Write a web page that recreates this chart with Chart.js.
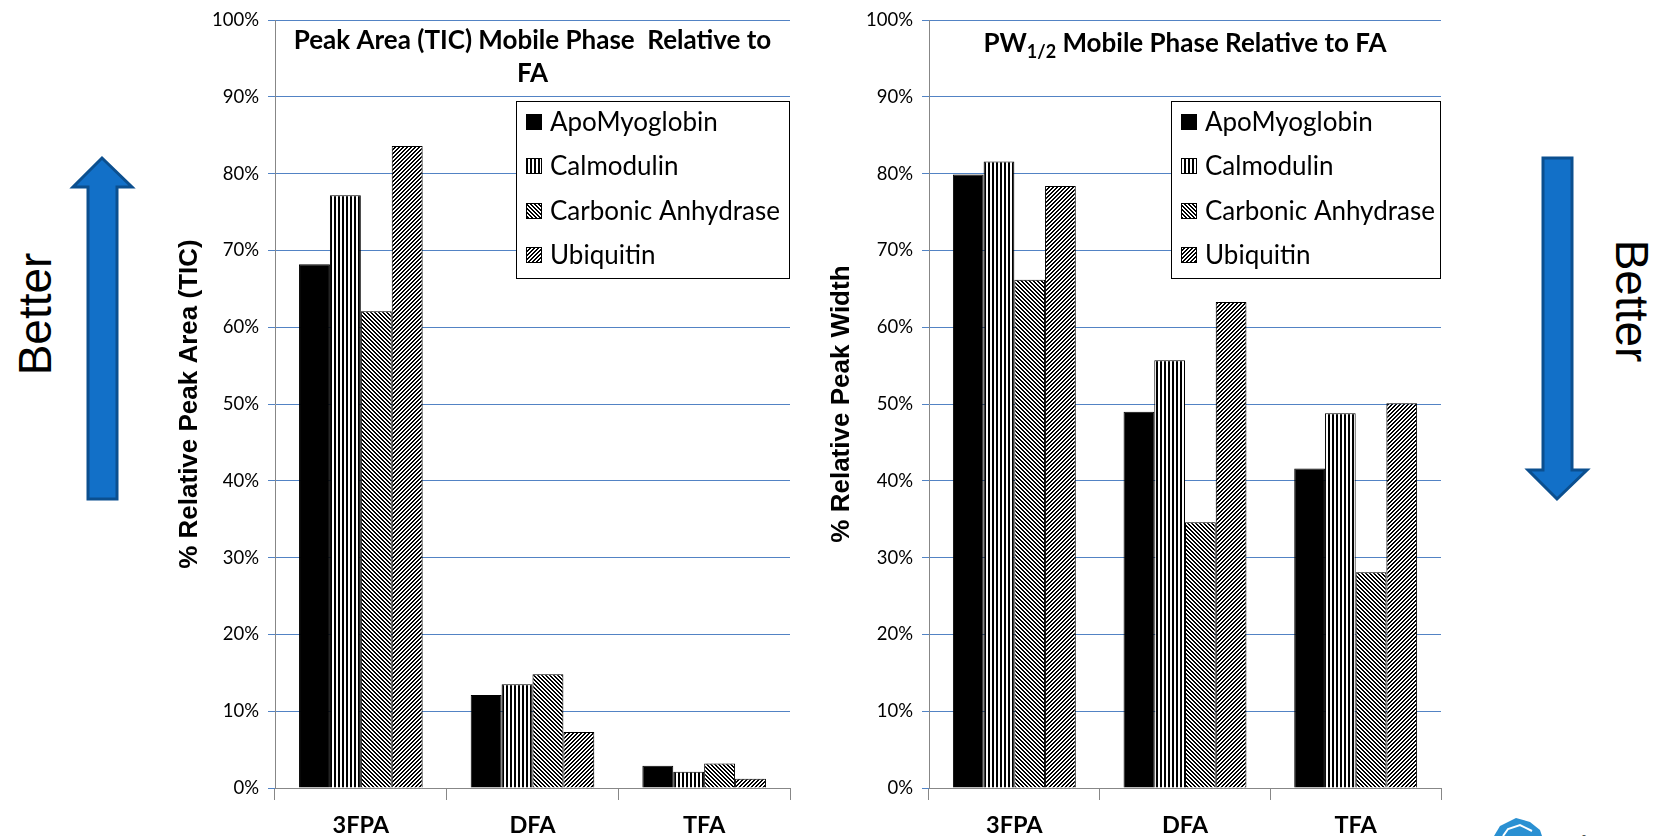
<!DOCTYPE html>
<html>
<head>
<meta charset="utf-8">
<script src="https://cdn.jsdelivr.net/npm/chart.js@4.4.0/dist/chart.umd.min.js"></script>
<style>
  html, body { margin: 0; padding: 0; background: #fff; }
  body { width: 1655px; height: 836px; position: relative; overflow: hidden; font-family: "Liberation Sans", Arial, sans-serif; }
  .chart-box { position: absolute; top: 0; height: 836px; }
  #leftBox { left: 150px; width: 650px; }
  #rightBox { left: 820px; width: 640px; }
  .better { position: absolute; font-size: 46px; line-height: 1; color: #000; white-space: nowrap; }
  #deco { position: absolute; left: 0; top: 0; }
</style>
</head>
<body>
<svg id="deco" width="1655" height="836">
  <polygon points="88,499 88,187 73,187 102,158 132,187 117,187 117,499" fill="#1270c8" stroke="#0b4f8f" stroke-width="3"/>
  <polygon points="1543,158 1543,470 1528,470 1557,499 1587,470 1572,470 1572,158" fill="#1270c8" stroke="#0b4f8f" stroke-width="3"/>
  <polygon points="1494,836 1500,826 1516,818 1530,822 1540,830 1542,836" fill="#2a90d2"/>
  <polyline points="1503,836 1508,829 1520,825 1532,831" fill="none" stroke="#fff" stroke-width="2"/>
  <text x="1552" y="858" font-family="Liberation Sans" font-size="32" fill="#555">advanced</text>
</svg>
<div class="better" id="betterLeft" style="left:35px; top:314px; transform: translate(-50%, -50%) rotate(-90deg);">Better</div>
<div class="better" id="betterRight" style="left:1632px; top:301px; transform: translate(-50%, -50%) rotate(90deg);">Better</div>
<div class="chart-box" id="leftBox"><canvas id="areaChart"></canvas></div>
<div class="chart-box" id="rightBox"><canvas id="widthChart"></canvas></div>

<script>
const categories = ["3FPA", "DFA", "TFA"];
const seriesNames = ["ApoMyoglobin", "Calmodulin", "Carbonic Anhydrase", "Ubiquitin"];

// % relative peak area (TIC)
const areaApo = [68.2, 12.1, 2.9];
const areaCal = [77.2, 13.5, 2.1];
const areaCarb = [62.1, 14.8, 3.2];
const areaUbi = [83.6, 7.3, 1.2];

// % relative peak width
const widthApo = [79.9, 49.0, 41.6];
const widthCal = [81.6, 55.7, 48.8];
const widthCarb = [66.2, 34.6, 28.1];
const widthUbi = [78.4, 63.3, 50.1];

const yMin = 0;
const yMax = 100;
const yStep = 10;

const areaTitle = ["Peak Area (TIC) Mobile Phase  Relative to", "FA"];
const widthTitle = [
    { text: "PW", sub: false },
    { text: "1/2", sub: true },
    { text: " Mobile Phase Relative to FA", sub: false }
];

const TICK_FONT = "Lato";
const GRID_BLUE = "#5283c4";
const AXIS_GRAY = "#878787";

function makePattern(kind) {
    const c = document.createElement("canvas");
    c.width = 4;
    c.height = 4;
    const g = c.getContext("2d");
    g.fillStyle = "#fff";
    g.fillRect(0, 0, 4, 4);
    g.fillStyle = "#000";
    if (kind === "solid") {
        g.fillRect(0, 0, 4, 4);
    } else if (kind === "vertical") {
        g.fillRect(0, 0, 2, 4);
    } else if (kind === "down") {
        for (let i = 0; i < 4; i++) {
            g.fillRect(i, i, 1, 1);
            g.fillRect((i + 1) % 4, i, 1, 1);
        }
    } else if (kind === "up") {
        for (let i = 0; i < 4; i++) {
            g.fillRect(3 - i, i, 1, 1);
            g.fillRect((4 - i) % 4, i, 1, 1);
        }
    }
    return g.createPattern(c, "repeat");
}

const fills = [makePattern("solid"), makePattern("vertical"), makePattern("down"), makePattern("up")];

function buildDatasets(seriesValues) {
    return seriesValues.map((values, i) => ({
        label: seriesNames[i],
        data: values,
        backgroundColor: fills[i],
        borderColor: "#000",
        borderWidth: 1,
        borderSkipped: "bottom",
        categoryPercentage: 0.72,
        barPercentage: 1.0
    }));
}

// title and boxed legend drawn inside the plot area
const panelDecor = {
    id: "panelDecor",
    afterDatasetsDraw(chart, args, opts) {
        const { ctx, chartArea } = chart;
        const midX = (chartArea.left + chartArea.right) / 2;
        ctx.save();
        ctx.fillStyle = "#000";
        ctx.textBaseline = "alphabetic";

        if (opts.titleLines) {
            ctx.font = "bold 26px Lato";
            ctx.textAlign = "center";
            opts.titleLines.forEach((line, i) => {
                ctx.fillText(line, midX, opts.titleBaseline + i * 33);
            });
        }
        if (opts.titleRuns) {
            ctx.textAlign = "left";
            const fontFor = (run) => run.sub ? "bold 18px Lato" : "bold 26px Lato";
            let total = 0;
            opts.titleRuns.forEach(run => {
                ctx.font = fontFor(run);
                total += ctx.measureText(run.text).width;
            });
            let x = midX - total / 2;
            opts.titleRuns.forEach(run => {
                ctx.font = fontFor(run);
                ctx.fillText(run.text, x, opts.titleBaseline + (run.sub ? 6 : 0));
                x += ctx.measureText(run.text).width;
            });
        }

        // legend box
        const w = opts.legendWidth;
        const h = 178;
        const bx = Math.round(chartArea.right - w);
        const by = opts.legendTop;
        ctx.fillStyle = "#fff";
        ctx.fillRect(bx, by, w, h);
        ctx.strokeStyle = "#000";
        ctx.lineWidth = 1;
        ctx.strokeRect(bx + 0.5, by + 0.5, w - 1, h - 1);
        ctx.font = "26px Lato";
        ctx.textAlign = "left";
        ctx.textBaseline = "middle";
        chart.data.datasets.forEach((ds, i) => {
            const cy = Math.round(by + 21 + i * 44.3);
            ctx.fillStyle = ds.backgroundColor;
            ctx.fillRect(bx + 10, cy - 8, 16, 16);
            ctx.strokeStyle = "#000";
            ctx.strokeRect(bx + 10.5, cy - 7.5, 15, 15);
            ctx.fillStyle = "#000";
            ctx.fillText(ds.label, bx + 34, cy + 1);
        });
        ctx.restore();
    }
};

function createChart(canvasId, seriesValues, yTitle, yWidth, titlePad, rightPad, decor) {
    return new Chart(document.getElementById(canvasId), {
        type: "bar",
        data: {
            labels: categories,
            datasets: buildDatasets(seriesValues)
        },
        options: {
            responsive: true,
            maintainAspectRatio: false,
            animation: false,
            layout: { padding: { top: 19, right: rightPad, bottom: 0, left: 0 } },
            plugins: {
                legend: { display: false },
                tooltip: { enabled: false },
                panelDecor: decor
            },
            scales: {
                x: {
                    afterFit: (scale) => { scale.height = 48; },
                    grid: {
                        offset: true,
                        drawOnChartArea: false,
                        drawTicks: true,
                        tickLength: 12,
                        color: AXIS_GRAY
                    },
                    border: { display: true, color: AXIS_GRAY, width: 1 },
                    ticks: {
                        color: "#000",
                        padding: 11,
                        font: { family: TICK_FONT, size: 23.5, weight: "bold" }
                    }
                },
                y: {
                    min: yMin,
                    max: yMax,
                    afterFit: (scale) => { scale.width = yWidth; },
                    grid: {
                        color: GRID_BLUE,
                        lineWidth: 1,
                        drawTicks: true,
                        tickLength: 7
                    },
                    border: { display: true, color: AXIS_GRAY, width: 1 },
                    ticks: {
                        stepSize: yStep,
                        color: "#000",
                        padding: 9,
                        font: { family: TICK_FONT, size: 18.5 },
                        callback: (v) => v + "%"
                    },
                    title: {
                        display: true,
                        text: yTitle,
                        color: "#000",
                        font: { family: "Liberation Sans", size: 26, weight: "bold" },
                        padding: { top: titlePad, bottom: 0 }
                    }
                }
            }
        },
        plugins: [panelDecor]
    });
}

createChart("areaChart", [areaApo, areaCal, areaCarb, areaUbi],
    "% Relative Peak Area (TIC)", 125, 24, 10,
    { titleLines: areaTitle, titleBaseline: 49, legendWidth: 274, legendTop: 101 });

createChart("widthChart", [widthApo, widthCal, widthCarb, widthUbi],
    "% Relative Peak Width", 109, 6, 19,
    { titleRuns: widthTitle, titleBaseline: 52, legendWidth: 270, legendTop: 101 });
</script>
</body>
</html>
